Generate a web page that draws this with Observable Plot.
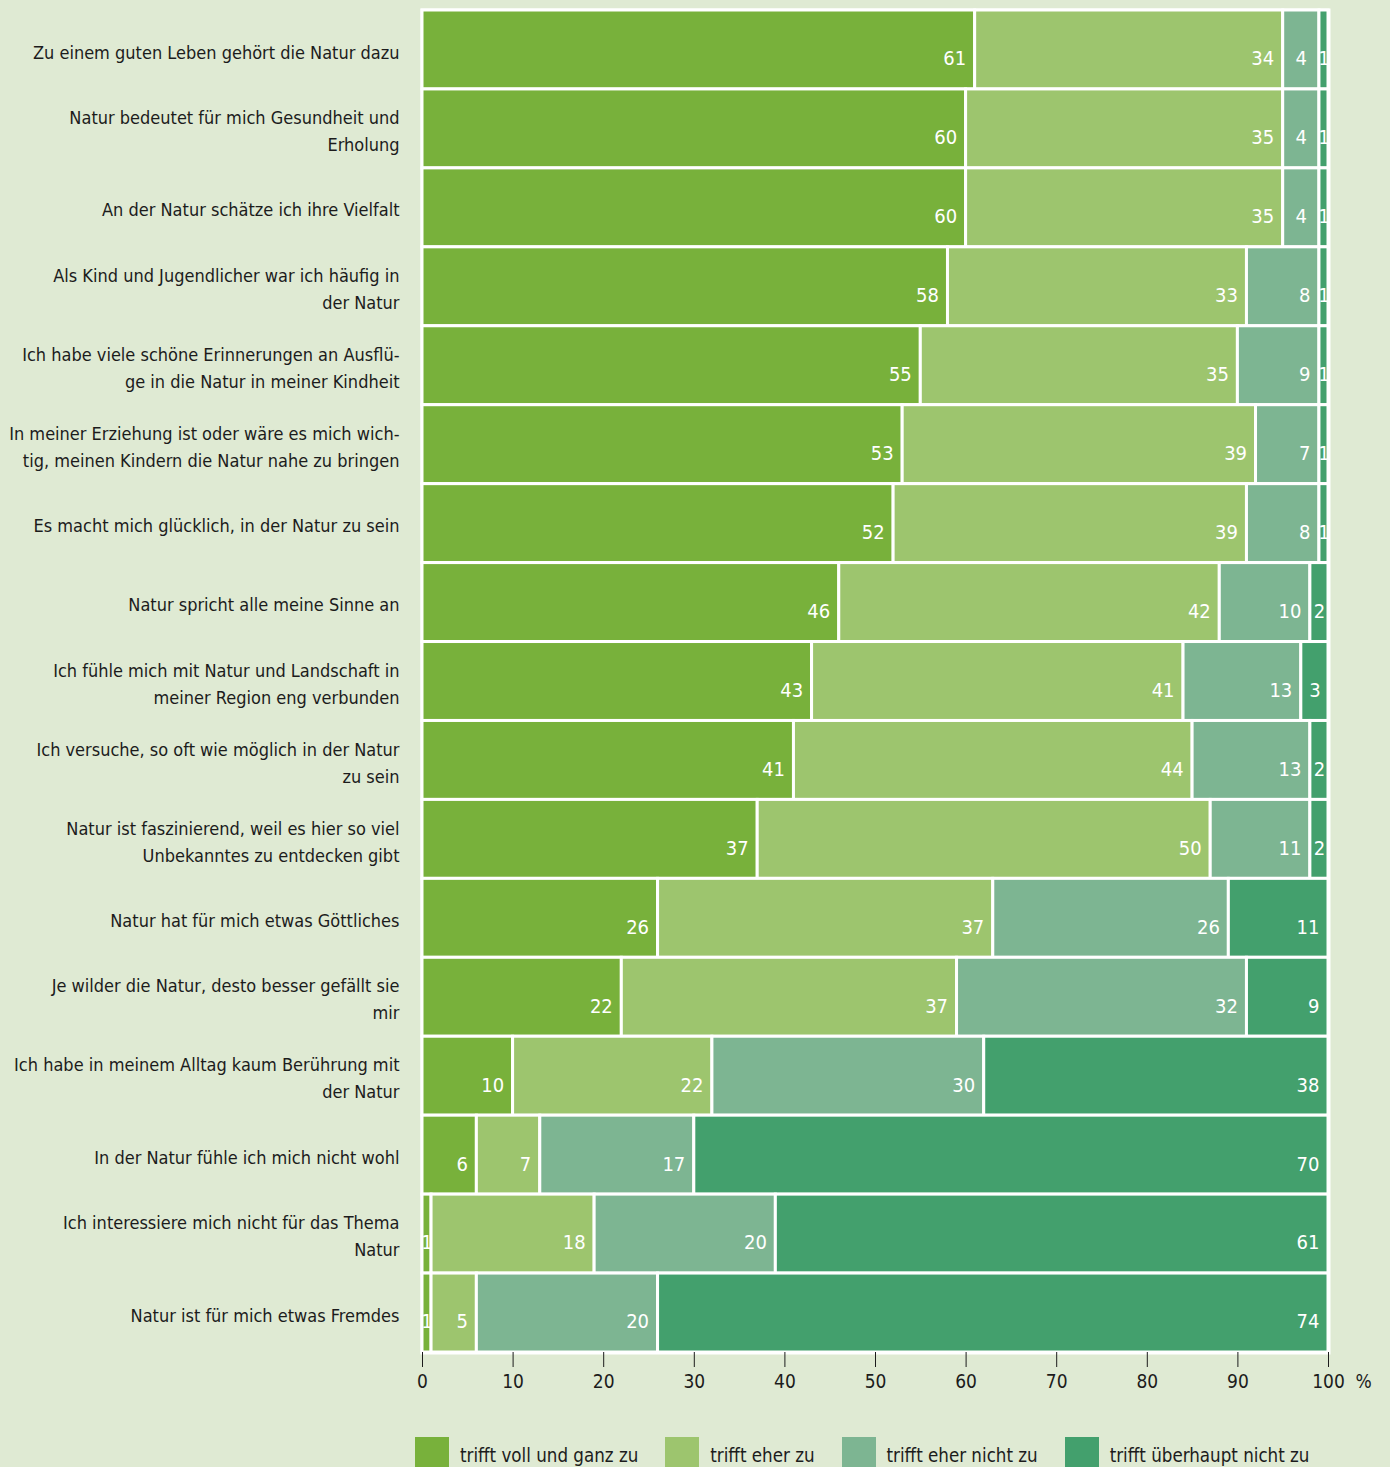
<!DOCTYPE html>
<html>
<head>
<meta charset="utf-8">
<script src="https://cdn.jsdelivr.net/npm/d3@7"></script>
<script src="https://cdn.jsdelivr.net/npm/@observablehq/plot@0.6"></script>
<style>
  html, body { margin: 0; padding: 0; background: #dfead3; }
  #wrap { width: 1390px; height: 1467px; overflow: hidden; position: relative;
    font-family: "Liberation Sans Narrow", "DejaVu Sans Condensed", Roboto, sans-serif; }
  #legend { position: absolute; top: 1437px; left: 415px; display: flex; gap: 0; }
  .item { display: flex; align-items: flex-start; margin-right: 27px; }
  .sw { width: 34px; height: 34px; margin-right: 11px; }
  .lab { font-size: 18.6px; color: #1c1c1c; line-height: 34px; padding-top: 2px; }
</style>
</head>
<body>
<div id="wrap">
  <div id="chart"></div>
  <div id="legend"></div>
</div>
<script>
const categories = [
  "Zu einem guten Leben gehört die Natur dazu",
  "Natur bedeutet für mich Gesundheit und\nErholung",
  "An der Natur schätze ich ihre Vielfalt",
  "Als Kind und Jugendlicher war ich häufig in\nder Natur",
  "Ich habe viele schöne Erinnerungen an Ausflü-\nge in die Natur in meiner Kindheit",
  "In meiner Erziehung ist oder wäre es mich wich-\ntig, meinen Kindern die Natur nahe zu bringen",
  "Es macht mich glücklich, in der Natur zu sein",
  "Natur spricht alle meine Sinne an",
  "Ich fühle mich mit Natur und Landschaft in\nmeiner Region eng verbunden",
  "Ich versuche, so oft wie möglich in der Natur\nzu sein",
  "Natur ist faszinierend, weil es hier so viel\nUnbekanntes zu entdecken gibt",
  "Natur hat für mich etwas Göttliches",
  "Je wilder die Natur, desto besser gefällt sie\nmir",
  "Ich habe in meinem Alltag kaum Berührung mit\nder Natur",
  "In der Natur fühle ich mich nicht wohl",
  "Ich interessiere mich nicht für das Thema\nNatur",
  "Natur ist für mich etwas Fremdes"
];
const levels = ["trifft voll und ganz zu", "trifft eher zu", "trifft eher nicht zu", "trifft überhaupt nicht zu"];
const colors = ["#78b13b", "#9dc56e", "#7db592", "#43a06d"];
const triffVoll      = [61, 60, 60, 58, 55, 53, 52, 46, 43, 41, 37, 26, 22, 10, 6, 1, 1];
const triffEher      = [34, 35, 35, 33, 35, 39, 39, 42, 41, 44, 50, 37, 37, 22, 7, 18, 5];
const triffEherNicht = [4, 4, 4, 8, 9, 7, 8, 10, 13, 13, 11, 26, 32, 30, 17, 20, 20];
const triffNicht     = [1, 1, 1, 1, 1, 1, 1, 2, 3, 2, 2, 11, 9, 38, 70, 61, 74];
const xTicks = [0, 10, 20, 30, 40, 50, 60, 70, 80, 90, 100];
const unitLabel = ["%"];

const series = [triffVoll, triffEher, triffEherNicht, triffNicht];
const data = [];
categories.forEach((c, i) => series.forEach((s, j) => data.push({cat: c, level: levels[j], value: s[i]})));

const font = '"Liberation Sans Narrow", "DejaVu Sans Condensed", Roboto, sans-serif';
const stackOpts = {y: "cat", x: "value", z: "level", order: levels};

const chart = Plot.plot({
  width: 1390,
  height: 1410,
  marginLeft: 422,
  marginRight: 62,
  marginTop: 10,
  marginBottom: 58,
  style: {background: "transparent", fontFamily: font, fontSize: "19px", color: "#1c1c1c"},
  x: {domain: [0, 100]},
  y: {domain: categories, padding: 0, round: false},
  color: {domain: levels, range: colors},
  marks: [
    Plot.frame({fill: "white", stroke: "white", strokeWidth: 4}),
    Plot.barX(data, Plot.stackX({...stackOpts, fill: "level", stroke: "white", strokeWidth: 3, inset: 0})),
    Plot.text(data, Plot.stackX2({...stackOpts, text: d => d.value >= 5 ? d.value : "", textAnchor: "end", dx: -9, dy: 9, fill: "white", fontSize: 20})),
    Plot.text(data, Plot.stackX({...stackOpts, text: d => d.value < 5 ? d.value : "", textAnchor: "middle", dy: 9, fill: "white", fontSize: 20})),
    Plot.axisY({tickSize: 0, tickPadding: 23, label: null, fontSize: 18, fontWeight: 500, lineHeight: 1.5}),
    Plot.axisX({ticks: xTicks, tickSize: 15, tickPadding: 7, label: null, fontSize: 19, stroke: "#1c1c1c"}),
    Plot.text(unitLabel, {x: () => 100, text: d => d, frameAnchor: "bottom", dx: 35, dy: 35, fontSize: 19, fill: "#1c1c1c"})
  ]
});
document.getElementById("chart").appendChild(chart);

const legend = document.getElementById("legend");
levels.forEach((l, i) => {
  const it = document.createElement("div");
  it.className = "item";
  it.innerHTML = `<div class="sw" style="background:${colors[i]}"></div><div class="lab">${l}</div>`;
  legend.appendChild(it);
});
</script>
</body>
</html>
